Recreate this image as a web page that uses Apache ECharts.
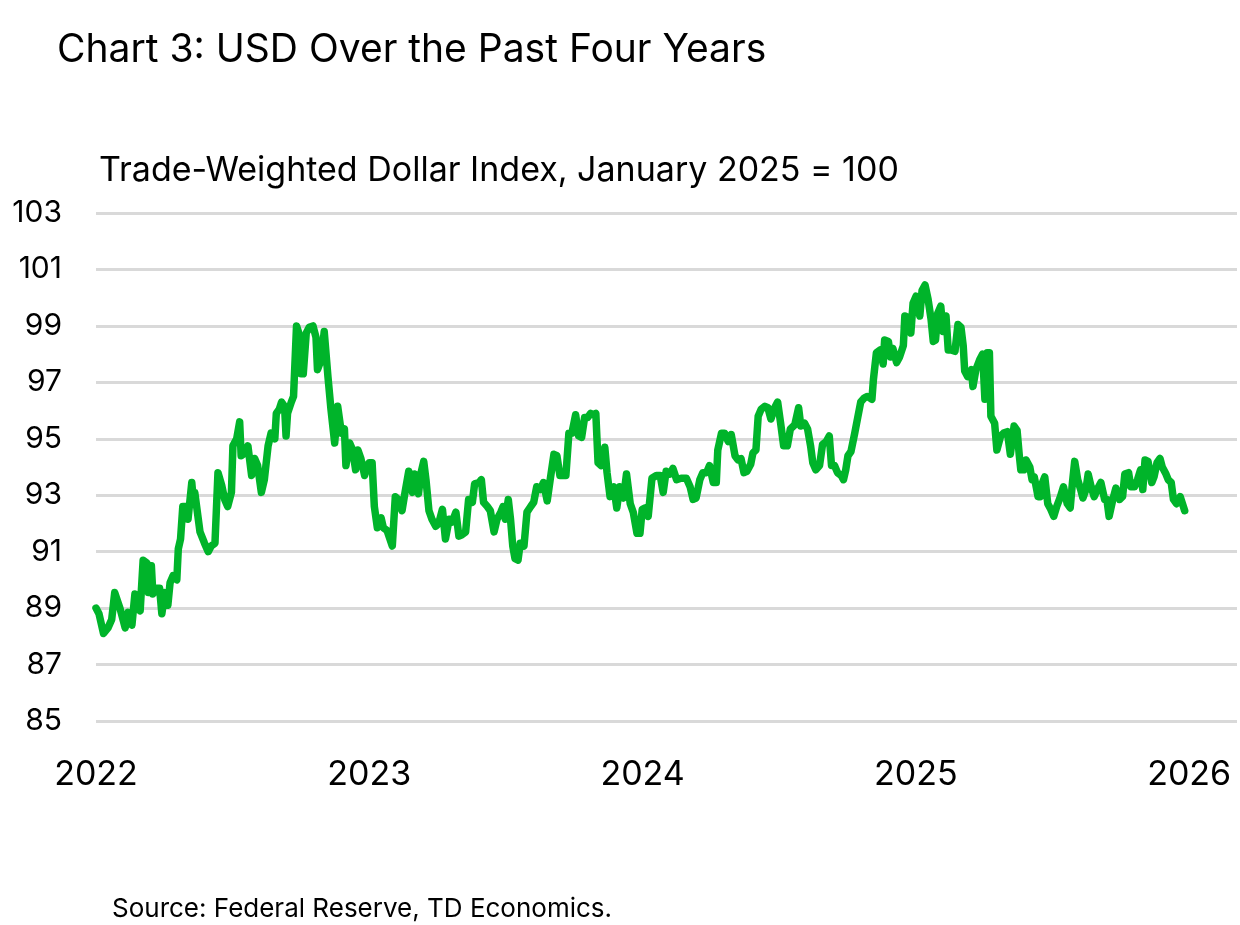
<!DOCTYPE html>
<html>
<head>
<meta charset="utf-8">
<script src="https://cdn.jsdelivr.net/npm/echarts@6/dist/echarts.min.js"></script>
<style>
html,body{margin:0;padding:0;background:#fff;}
#chart{width:1240px;height:925px;}
</style>
</head>
<body>
<div id="chart"></div>
<script>
// Days since 2022-01-01 and index values (January 2025 = 100)
const days2022 = [0,4,10,16,21,25,32,39,43,48,52,59,63,68,70,74,76,81,85,88,92,96,99,103,108,110,113,116,121,123,128,130,132,139,145,150,154,159,163,168,172,176,181,183,188,192,194,199,203,208,212,216,221,225,230,234,239,241,245,248,252,254,256,261,264,268,271,274,277,281,285,290,294,296,301,305,310,314,319,323,328,332,334,339,343,347,350,354,359,363];
const usd2022 = [89.0,88.8,88.1,88.3,88.6,89.55,89.0,88.3,88.85,88.4,89.5,88.9,90.7,90.6,89.55,90.5,89.5,89.7,89.7,88.8,89.55,89.1,89.9,90.15,90.0,91.1,91.45,92.6,92.6,92.15,93.45,92.85,93.1,91.7,91.3,91.0,91.2,91.3,93.8,93.35,92.85,92.6,93.1,94.75,95.0,95.6,94.4,94.5,94.75,93.7,94.3,94.05,93.1,93.55,94.75,95.2,95.0,95.9,96.05,96.3,96.15,95.1,95.9,96.3,96.5,99.0,98.75,97.3,97.3,98.75,98.95,99.0,98.6,97.45,97.8,98.8,97.2,96.05,94.85,96.15,95.2,95.35,94.05,94.85,94.6,93.9,94.6,94.3,93.7,94.05];

const days2023 = [365,369,372,376,381,384,389,396,400,404,409,413,418,423,426,431,434,438,441,445,449,454,458,463,467,472,476,481,485,489,494,498,503,506,512,515,518,523,527,532,536,541,544,547,551,554,557,560,564,567,572,576,581,585,589,594,598,603,607,612,616,620,624,628,632,636,641,645,649,653,657,661,665,668,671,675,680,683,687,692,696,700,705,709,714,718,723,727];
const usd2023 = [94.15,94.15,92.6,91.85,92.2,91.85,91.75,91.2,92.95,92.85,92.45,93.1,93.85,93.1,93.75,93.05,93.75,94.2,93.55,92.45,92.15,91.9,92.0,92.5,91.45,92.15,92.05,92.4,91.55,91.6,91.7,92.85,92.75,93.4,93.45,93.55,92.75,92.6,92.45,91.7,92.15,92.4,92.6,92.15,92.85,92.15,91.2,90.75,90.7,91.3,91.2,92.4,92.6,92.75,93.3,93.2,93.45,92.8,93.55,94.45,94.4,93.7,93.7,93.7,95.2,95.2,95.85,95.1,95.05,95.75,95.75,95.9,95.85,95.9,94.15,94.05,94.7,93.8,92.95,93.3,92.55,93.3,92.9,93.75,92.7,92.4,91.65,91.65];

const days2024 = [730,734,738,743,749,754,758,762,767,771,776,782,789,794,798,802,807,811,816,820,825,829,831,836,840,845,849,854,858,862,866,870,875,878,882,885,889,894,898,902,907,911,915,919,924,928,934,939,942,947,951,955,958,962,967,971,976,980,983,987,991,996,999,1002,1005,1009,1014,1018,1022,1027,1031];
const usd2024 = [92.5,92.55,92.25,93.6,93.7,93.7,93.1,93.85,93.75,93.95,93.55,93.6,93.6,93.3,92.85,92.9,93.55,93.8,93.8,94.05,93.45,93.45,94.6,95.2,95.2,94.9,95.15,94.4,94.25,94.3,93.8,93.85,94.1,94.5,94.6,95.8,96.05,96.15,96.1,95.7,96.1,96.3,95.55,94.75,94.75,95.35,95.5,96.1,95.45,95.55,95.35,94.75,94.15,93.9,94.05,94.8,94.9,95.1,94.05,94.05,93.8,93.7,93.55,93.9,94.4,94.55,95.2,95.75,96.3,96.45,96.5];

const days2025 = [1037,1039,1043,1048,1052,1054,1059,1062,1065,1070,1074,1079,1081,1085,1089,1092,1096,1101,1104,1108,1112,1116,1119,1122,1125,1129,1132,1136,1139,1143,1148,1152,1156,1159,1161,1165,1170,1172,1176,1181,1185,1188,1191,1194,1196,1201,1204,1209,1213,1218,1222,1227,1231,1234,1236,1240,1243,1248,1251,1254,1259,1262,1265,1268,1272,1276,1280,1284,1289,1293,1298,1302,1305,1308,1312,1316,1319,1323,1326,1330,1334,1339,1343,1348,1351,1354,1359,1363,1368,1372,1375,1380,1383,1388,1392,1396,1399,1402,1406,1411,1414,1418,1422,1425,1430,1433,1437,1440,1444,1449,1452,1455];
const usd2025 = [96.4,97.1,98.05,98.15,97.65,98.5,98.45,97.9,98.2,97.7,97.9,98.3,99.35,99.3,98.75,99.8,100.05,99.35,100.25,100.45,99.95,99.25,98.45,98.5,99.45,99.7,98.8,99.35,98.15,98.15,98.1,99.05,98.95,98.3,97.4,97.2,97.45,96.85,97.45,97.8,98.0,96.4,98.05,98.05,95.8,95.55,94.6,95.1,95.2,95.25,94.45,95.45,95.3,94.4,93.9,93.9,94.25,94.0,93.55,93.65,92.95,92.95,93.45,93.65,92.7,92.5,92.25,92.6,92.95,93.3,92.7,92.55,93.45,94.2,93.55,93.2,92.9,93.2,93.75,93.3,92.95,93.25,93.45,92.85,92.85,92.25,92.85,93.25,92.85,92.95,93.75,93.8,93.3,93.3,93.55,93.9,93.2,94.25,94.2,93.45,93.65,94.15,94.3,94.0,93.75,93.55,93.45,92.85,92.7,92.95,92.7,92.45];

const yearTicks = [2022, 2023, 2024, 2025, 2026];
const yTicks = [85, 87, 89, 91, 93, 95, 97, 99, 101, 103];

const titleText = 'Chart 3: USD Over the Past Four Years';
const subtitleText = 'Trade-Weighted Dollar Index, January 2025 = 100';
const sourceText = 'Source: Federal Reserve, TD Economics.';

const allDays = [].concat(days2022, days2023, days2024, days2025);
const allUsd = [].concat(usd2022, usd2023, usd2024, usd2025);
const seriesData = allDays.map((d, i) => [yearTicks[0] + d / 365.25, allUsd[i]]);

const FONT = 'Inter';
const chart = echarts.init(document.getElementById('chart'), null, {renderer: 'canvas'});
chart.setOption({
  animation: false,
  backgroundColor: '#ffffff',
  title: [
    {text: titleText, left: 52, top: 26, textStyle: {fontFamily: FONT, fontSize: 39, fontWeight: 'normal', color: '#000'}},
    {text: subtitleText, left: 94, top: 149, textStyle: {fontFamily: FONT, fontSize: 34, fontWeight: 'normal', color: '#000'}},
    {text: sourceText, left: 107, top: 891, textStyle: {fontFamily: FONT, fontSize: 26, fontWeight: 'normal', color: '#000'}}
  ],
  grid: {left: 96, right: 0, top: 213, bottom: 204, containLabel: false},
  xAxis: {
    type: 'value',
    min: yearTicks[0],
    max: 2026.175,
    interval: 1,
    axisLine: {show: false},
    axisTick: {show: false},
    splitLine: {show: false},
    axisLabel: {
      fontFamily: FONT, fontSize: 34, color: '#000', margin: 37,
      formatter: v => yearTicks.indexOf(v) >= 0 ? String(v) : ''
    }
  },
  yAxis: {
    type: 'value',
    min: yTicks[0],
    max: yTicks[yTicks.length - 1],
    interval: 2,
    axisLine: {show: false},
    axisTick: {show: false},
    splitLine: {show: true, lineStyle: {color: '#d9d9d9', width: 3}},
    axisLabel: {fontFamily: FONT, fontSize: 30, color: '#000', margin: 34}
  },
  series: [{
    type: 'line',
    data: seriesData,
    showSymbol: false,
    symbol: 'none',
    lineStyle: {color: '#00b42a', width: 7.5, cap: 'round', join: 'round'},
    z: 3
  }]
});
</script>
</body>
</html>
